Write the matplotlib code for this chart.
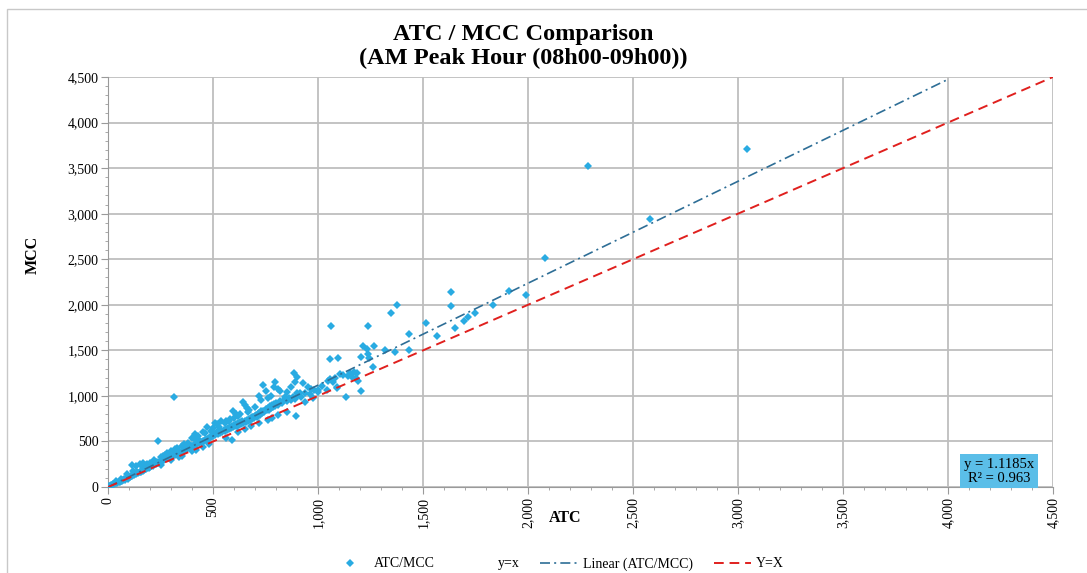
import matplotlib
matplotlib.use("Agg")
import matplotlib.pyplot as plt
from matplotlib.lines import Line2D
from matplotlib.ticker import MultipleLocator, FuncFormatter
from matplotlib.patches import Rectangle

plt.rcParams['font.family'] = ['Liberation Serif', 'DejaVu Serif']

# ATC / MCC pairs
atc = [5, 10, 15, 20, 25, 30, 35, 40, 45, 50, 55, 60, 65, 70, 75, 80, 85, 90, 95, 100,
       105, 110, 115, 120, 125, 130, 135, 140, 145, 150, 155, 160, 165, 170, 175, 180, 185, 190, 195, 200,
       114, 167, 150, 135, 185, 200, 60, 40, 90, 160, 175, 120,
       205, 210, 215, 220, 225, 230, 235, 240, 245, 250, 255, 260, 265, 270, 275, 280, 285, 290, 295, 300,
       305, 310, 315, 320, 325, 330, 335, 340, 345, 350, 355, 360, 365, 370, 375, 380, 385, 390, 395, 400,
       405, 410, 415, 420, 425, 430, 435, 440, 445, 450, 455, 460, 465, 470, 475, 480, 485, 490, 495, 500,
       240, 314, 250, 280, 300, 330, 350, 380, 414, 400, 430, 471, 450, 420, 360, 320, 270, 460, 490, 500, 220, 260,
       250, 300, 350, 400, 450, 480, 340, 420,
       505, 510, 515, 520, 525, 530, 535, 540, 545, 550, 555, 560, 565, 570, 575, 580, 585, 590, 595, 600,
       605, 610, 615, 620, 625, 630, 635, 640, 645, 650, 655, 660, 665, 670, 675, 680, 685, 690, 695, 700,
       510, 520, 540, 560, 580, 595, 610, 620, 643, 650, 660, 670, 686, 700, 530, 555, 575, 600, 630, 665,
       590, 560, 620, 680, 650,
       705, 710, 715, 720, 725, 730, 735, 740, 745, 750, 755, 760, 765, 770, 775, 780, 785, 790, 795, 800,
       810, 820, 830, 840, 850, 860, 870, 880, 890, 900, 920, 940, 960, 980, 1000,
       738, 720, 730, 750, 760, 775, 790, 795, 810, 820, 843, 850, 870, 886, 890, 900, 900, 914, 929, 967, 976, 950,
       720, 760, 810, 895, 850, 780, 940,
       1000, 1043, 1048, 1057, 1057, 1062, 1071, 1090, 1090, 1095, 1105, 1133, 1143, 1162, 1186, 1181, 1190,
       1205, 1205, 1214, 1233, 1238, 1238, 1243, 1262, 1267, 1020, 1080, 1120, 1150, 1170,
       1348, 1376, 1433, 1433, 1514, 1567, 1633, 1633, 1652, 1695, 1714, 1748, 1833, 1910, 1990,
       2081, 2286, 2581, 3043, 1367, 1320]
mcc = [8, 12, 20, 18, 30, 28, 40, 45, 42, 60, 58, 70, 62, 80, 85, 78, 95, 100, 92, 115,
       110, 125, 120, 140, 130, 150, 145, 160, 155, 170, 165, 185, 175, 190, 195, 200, 205, 215, 210, 225,
       241, 263, 250, 230, 255, 260, 90, 70, 140, 230, 240, 180,
       230, 240, 235, 250, 260, 255, 270, 265, 280, 290, 285, 300, 295, 310, 320, 315, 330, 325, 340, 345,
       335, 355, 360, 350, 370, 365, 380, 375, 390, 400, 395, 410, 405, 420, 430, 425, 440, 435, 450, 455,
       445, 465, 470, 460, 480, 490, 485, 500, 495, 510, 505, 520, 515, 530, 525, 540, 550, 545, 560, 565,
       505, 985, 330, 370, 400, 430, 450, 480, 582, 540, 560, 659, 600, 520, 470, 420, 350, 590, 620, 650, 300, 340,
       240, 295, 345, 395, 445, 470, 330, 410,
       580, 570, 590, 600, 585, 610, 595, 620, 605, 630, 615, 640, 625, 650, 635, 660, 645, 670, 655, 680,
       665, 690, 675, 700, 685, 710, 695, 720, 705, 730, 715, 740, 725, 750, 735, 760, 745, 770, 755, 780,
       700, 690, 720, 730, 750, 834, 800, 780, 933, 900, 870, 850, 768, 880, 660, 700, 720, 760, 800, 820,
       516, 540, 600, 670, 640,
       790, 770, 800, 810, 790, 830, 815, 840, 820, 860, 845, 870, 850, 890, 870, 900, 880, 910, 890, 920,
       900, 940, 920, 960, 940, 980, 960, 990, 970, 1000, 990, 1030, 1020, 1060, 1040,
       1120, 1000, 950, 1050, 980, 1000, 1100, 1152, 1080, 1050, 988, 1040, 1100, 1251, 1152, 1207, 1032, 1032,
       1142, 1076, 977, 1100,
       700, 740, 790, 779, 820, 760, 930,
       1065, 1065, 1163, 1185, 1405, 1767, 1152, 1087, 1098, 1416, 1240, 988, 1218, 1207, 1251, 1196, 1163,
       1054, 1427, 1548, 1515, 1767, 1460, 1416, 1317, 1548, 1110, 1200, 1230, 1250, 1260,
       1910, 1998, 1679, 1504, 1800, 1658, 2140, 1987, 1745, 1822, 1866, 1910, 1998, 2151, 2108,
       2514, 3524, 2942, 3710, 1482, 1500]

slope = 1.1185
r2 = 0.963
fit_x = [0, 4000]
ref_x = [0, 4500]

pt_color = '#29ABE2'
fit_color = '#2E6E96'
ref_color = '#E0201E'


def main():
    fig = plt.figure(figsize=(10.87, 5.73), dpi=100)
    ax = fig.add_axes([0.0994, 0.150, 0.8693, 0.7156])

    # chart border
    fig.patches.append(Rectangle((0.0065, -0.01), 1.0, 0.994, transform=fig.transFigure,
                                 fill=False, edgecolor='#C8C8C8', linewidth=1.0))

    ax.plot(atc, mcc, linestyle='none', marker='D', markersize=4.5, color=pt_color,
            markeredgewidth=0, zorder=3)
    ax.plot(fit_x, [v * slope for v in fit_x], color=fit_color, linewidth=1.2,
            dashes=(6, 2.5, 1.2, 2.5), zorder=4)
    ax.plot(ref_x, ref_x, color=ref_color, linewidth=1.4, dashes=(5, 3), zorder=4)

    ax.set_xlim(0, 4500)
    ax.set_ylim(0, 4500)
    ax.xaxis.set_major_locator(MultipleLocator(500))
    ax.yaxis.set_major_locator(MultipleLocator(500))
    ax.xaxis.set_minor_locator(MultipleLocator(100))
    ax.yaxis.set_minor_locator(MultipleLocator(100))
    fmt = FuncFormatter(lambda v, p: f"{int(v):,}")
    ax.xaxis.set_major_formatter(fmt)
    ax.yaxis.set_major_formatter(fmt)
    ax.grid(True, which='major', color='#BEBEBE', linewidth=1.3)
    ax.set_axisbelow(True)
    for side in ['top', 'right']:
        ax.spines[side].set_visible(False)
    for side in ['left', 'bottom']:
        ax.spines[side].set_color('#9A9A9A')
    ax.tick_params(which='major', length=5, color='#9A9A9A', labelsize=10, pad=2)
    ax.tick_params(which='minor', length=2, color='#9A9A9A')
    for lab in ax.get_xticklabels():
        lab.set_rotation(90)
        lab.set_va('top')
        lab.set_ha('center')

    fig.text(0.52, 0.096, 'ATC', ha='center', va='center', fontsize=11.5, fontweight='bold')
    fig.text(0.030, 0.555, 'MCC', ha='center', va='center', rotation=90, fontsize=11.5,
             fontweight='bold')
    fig.text(0.481, 0.919, 'ATC / MCC Comparison\n(AM Peak Hour (08h00-09h00))', ha='center',
             va='center', fontsize=17.5, fontweight='bold', linespacing=1.15)

    ax.text(0.943, 0.006, f"y = {slope}x\nR² = {r2}", transform=ax.transAxes, ha='center',
            va='bottom', fontsize=10.5, linespacing=1.05,
            bbox=dict(boxstyle='square,pad=0.25', facecolor='#5BBEE8', edgecolor='none'))

    handles = [
        Line2D([], [], linestyle='none', marker='D', markersize=4.5, color=pt_color, markeredgewidth=0),
        Line2D([], [], linestyle='none'),
        Line2D([], [], color=fit_color, linewidth=1.2, dashes=(6, 2.5, 1.2, 2.5)),
        Line2D([], [], color=ref_color, linewidth=1.4, dashes=(5, 3)),
    ]
    labels = ['ATC/MCC', 'y=x', 'Linear (ATC/MCC)', 'Y=X']
    fig.legend(handles, labels, loc='center', bbox_to_anchor=(0.513, 0.016), ncol=4,
               frameon=False, fontsize=10, handlelength=2.7, handletextpad=0.35,
               columnspacing=1.5)

    fig.savefig('out.png', dpi=100)


if __name__ == "__main__":
    main()
